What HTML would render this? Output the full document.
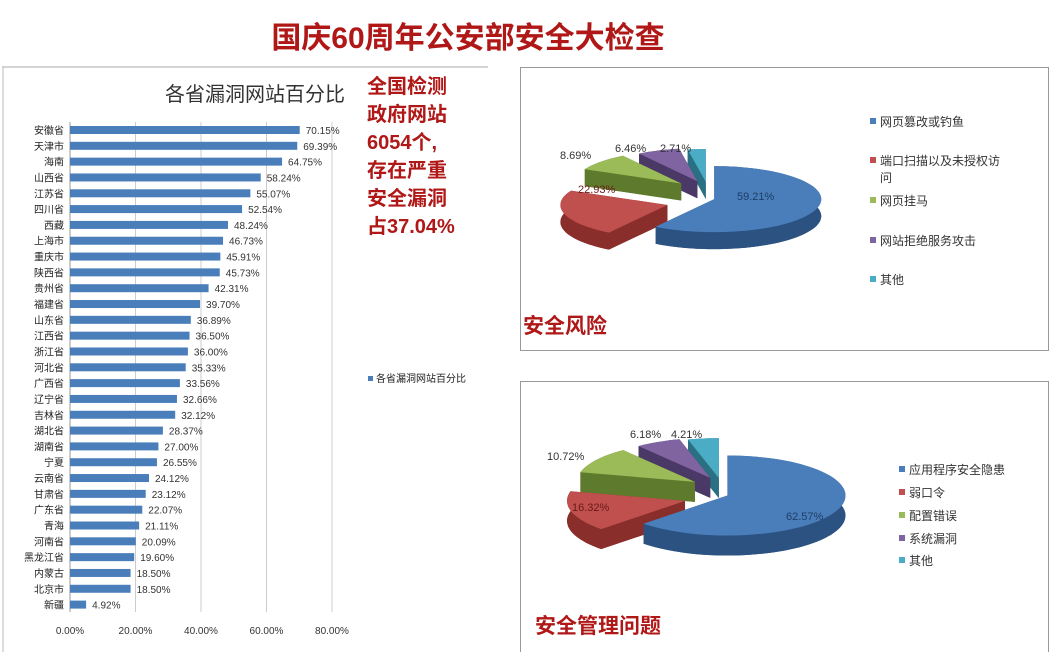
<!DOCTYPE html>
<html><head><meta charset="utf-8"><style>
body{margin:0;width:1050px;height:652px;background:#fff;position:relative;overflow:hidden;font-family:"Liberation Sans","Noto Sans CJK SC",sans-serif}
</style></head><body>
<svg id="s" width="1050" height="652" style="position:absolute;left:0;top:0" font-family="Liberation Sans, Noto Sans CJK SC, sans-serif">
<text x="468" y="48" font-size="30" font-weight="bold" fill="#b01818" text-anchor="middle">国庆60周年公安部安全大检查</text>
<line x1="2" y1="67" x2="488" y2="67" stroke="#aaa"/>
<line x1="3" y1="67" x2="3" y2="652" stroke="#bbb"/>
<rect x="520.5" y="67.5" width="528" height="283" fill="none" stroke="#999"/>
<rect x="520.5" y="381.5" width="528" height="272" fill="none" stroke="#999"/>
<text x="255" y="101" font-size="20" fill="#333" text-anchor="middle">各省漏洞网站百分比</text>
<g font-size="20" font-weight="bold" fill="#b01818">
<text x="367" y="93">全国检测</text><text x="367" y="121">政府网站</text><text x="367" y="149">6054个,</text>
<text x="367" y="177">存在严重</text><text x="367" y="205">安全漏洞</text><text x="367" y="233">占37.04%</text>
</g>
<text x="523" y="333" font-size="21" font-weight="bold" fill="#b01818">安全风险</text>
<text x="535" y="633" font-size="21" font-weight="bold" fill="#b01818">安全管理问题</text>
<g id="bars"></g>
<g id="p1"></g><g id="p2"></g>
</svg>
<script>
const NS="http://www.w3.org/2000/svg";
function el(p,t,a,txt){const e=document.createElementNS(NS,t);for(const k in a)e.setAttribute(k,a[k]);if(txt!=null)e.textContent=txt;p.appendChild(e);return e;}
const names=["安徽省","天津市","海南","山西省","江苏省","四川省","西藏","上海市","重庆市","陕西省","贵州省","福建省","山东省","江西省","浙江省","河北省","广西省","辽宁省","吉林省","湖北省","湖南省","宁夏","云南省","甘肃省","广东省","青海","河南省","黑龙江省","内蒙古","北京市","新疆"];
const vals=[70.15,69.39,64.75,58.24,55.07,52.54,48.24,46.73,45.91,45.73,42.31,39.70,36.89,36.50,36.00,35.33,33.56,32.66,32.12,28.37,27.00,26.55,24.12,23.12,22.07,21.11,20.09,19.60,18.50,18.50,4.92];
const g=document.getElementById("bars");
const x0=70,sc=3.275,y0=130,dy=15.82;
for(let i=1;i<=4;i++)el(g,"line",{x1:x0+i*20*sc,y1:122,x2:x0+i*20*sc,y2:612,stroke:"#ccc"});
el(g,"line",{x1:x0,y1:122,x2:x0,y2:612,stroke:"#999"});
for(let i=0;i<=4;i++)el(g,"text",{x:x0+i*20*sc,y:634,"font-size":10,fill:"#333","text-anchor":"middle"},(i*20).toFixed(2)+"%");
names.forEach((n,i)=>{const y=y0+i*dy;const w=vals[i]*sc;
el(g,"rect",{x:x0,y:y-4,width:w,height:8,fill:"#4a7ebb"});
el(g,"text",{x:x0-6,y:y+4,"font-size":10,fill:"#222","text-anchor":"end"},n);
el(g,"text",{x:x0+w+6,y:y+4,"font-size":10,fill:"#333"},vals[i].toFixed(2)+"%");});
el(g,"rect",{x:368,y:376,width:5,height:5,fill:"#4a7ebb"});
el(g,"text",{x:376,y:382,"font-size":10,fill:"#222"},"各省漏洞网站百分比");
const cols=[["#4a7ebb","#2c5282"],["#c0504d","#8a2e2c"],["#9bbb59","#5e7a2c"],["#8064a2","#4a3866"],["#4bacc6","#2a6f82"]];
function pie(id,cx,cy,rx,ry,d,data,exs){
const p=document.getElementById(id);let a=0;const sl=[];
data.forEach((v,i)=>{const a1=a,a2=a+v*3.6;a=a2;const m=(a1+a2)/2*Math.PI/180;const e=exs[i];
sl.push({i,a1,a2,ox:cx+e*Math.sin(m)*rx/ry*0.5,oy:cy-e*Math.cos(m),mid:-Math.cos(m)});});
const pt=(s,t,dz)=>{const r=t*Math.PI/180;return[s.ox+rx*Math.sin(r),s.oy-ry*Math.cos(r)+dz]};
const arc=(s,t1,t2,dz)=>{let str="";const n=Math.max(2,Math.ceil(Math.abs(t2-t1)/3));for(let k=0;k<=n;k++){const q=pt(s,t1+(t2-t1)*k/n,dz);str+=(k?"L":"")+q[0].toFixed(1)+","+q[1].toFixed(1)}return str};
sl.sort((A,B)=>A.mid-B.mid);
sl.forEach(s=>{const[c,dk]=cols[s.i];
el(p,"path",{d:"M"+s.ox+","+(s.oy+d)+"L"+arc(s,s.a1,s.a2,d)+"Z",fill:dk});
[s.a1,s.a2].forEach(t=>{const A=pt(s,t,0),B=pt(s,t,d);el(p,"path",{d:`M${s.ox},${s.oy}L${A}L${B}L${s.ox},${s.oy+d}Z`,fill:dk});});
el(p,"path",{d:"M"+arc(s,s.a1,s.a2,0)+"L"+arc(s,s.a2,s.a1,d)+"Z",fill:dk});
el(p,"path",{d:"M"+s.ox+","+s.oy+"L"+arc(s,s.a1,s.a2,0)+"Z",fill:c});});
}
pie("p1",708,198,107,33,17,[59.21,22.93,8.69,6.46,2.71],[4,26,22,18,16]);
pie("p2",722,494,118,40,20,[62.57,16.32,10.72,6.18,4.21],[4,26,22,18,16]);
const S=document.getElementById("s");
function lab(x,y,t,c,fs){el(S,"text",{x,y,"font-size":fs||11,fill:c||"#333"},t)}
lab(560,159,"8.69%");lab(615,152,"6.46%");lab(660,152,"2.71%");
lab(578,193,"22.93%","#6a1a18");lab(737,200,"59.21%","#1f3d66");
lab(547,460,"10.72%");lab(630,438,"6.18%");lab(671,438,"4.21%");
lab(572,511,"16.32%","#6a1a18");lab(786,520,"62.57%","#1f3d66");
const L1=[["网页篡改或钓鱼",126],["端口扫描以及未授权访",165],["网页挂马",205],["网站拒绝服务攻击",245],["其他",284]];
L1.forEach((l,i)=>{el(S,"rect",{x:870,y:l[1]-8,width:6,height:6,fill:cols[i][0]});lab(880,l[1],l[0],"#333",12);});
lab(880,182,"问","#333",12);
const L2=[["应用程序安全隐患",474],["弱口令",497],["配置错误",520],["系统漏洞",543],["其他",565]];
L2.forEach((l,i)=>{el(S,"rect",{x:899,y:l[1]-8,width:6,height:6,fill:cols[i][0]});lab(909,l[1],l[0],"#333",12);});
</script>
</body></html>
